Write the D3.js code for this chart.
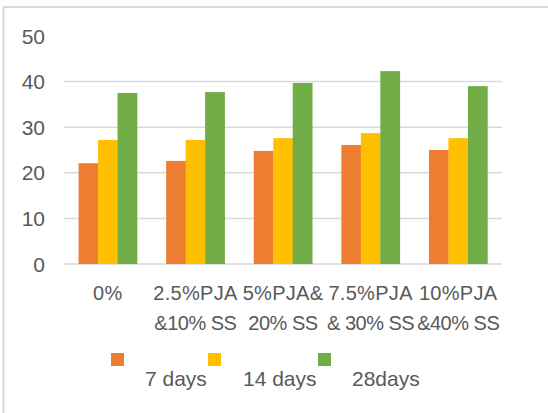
<!DOCTYPE html>
<html><head><meta charset="utf-8">
<script src="https://cdn.jsdelivr.net/npm/d3@7"></script>
<style>body{margin:0;background:#fff}svg{display:block}</style>
</head><body>
<svg id="c" width="548" height="413"></svg>
<script>
const categories = [["0%"], ["2.5%PJA", "&10% SS"], ["5%PJA&", "20% SS"], ["7.5%PJA", "& 30% SS"], ["10%PJA", "&40% SS"]];
const seriesNames = ["7 days", "14 days", "28days"];
const days7 = [22.1, 22.6, 24.8, 26.1, 25.0];
const days14 = [27.2, 27.2, 27.6, 28.7, 27.6];
const days28 = [37.5, 37.7, 39.7, 42.3, 39.0];
const yTicks = [0, 10, 20, 30, 40, 50];
const gridTicks = [0, 10, 20, 30, 40];
const colors = ["#ED7D31", "#FFC000", "#70AD47"];

const series = [days7, days14, days28];
const svg = d3.select("#c");
const font = "'Liberation Sans', Arial, sans-serif";
const txt = "#595959";

// frame (top & left visible)
svg.append("line").attr("x1", 3.5).attr("x2", 548).attr("y1", 7).attr("y2", 7).attr("stroke", "#d9d9d9").attr("stroke-width", 2);
svg.append("line").attr("x1", 3.5).attr("x2", 3.5).attr("y1", 7).attr("y2", 413).attr("stroke", "#d9d9d9").attr("stroke-width", 2);

const x = d3.scaleBand().domain(d3.range(categories.length)).range([64, 502]).paddingInner(0.333).paddingOuter(0.1665);
const xs = d3.scaleBand().domain(d3.range(series.length)).range([0, x.bandwidth()]);
const y = d3.scaleLinear().domain([0, 50]).range([264, 36]);

// gridlines
svg.append("g").selectAll("line").data(gridTicks).join("line")
  .attr("x1", 64).attr("x2", 502)
  .attr("y1", d => y(d)).attr("y2", d => y(d))
  .attr("stroke", "#d9d9d9").attr("stroke-width", 1.5);

// y labels
svg.append("g").selectAll("text").data(yTicks).join("text")
  .attr("x", 45).attr("y", d => y(d)).attr("dy", "0.36em")
  .attr("text-anchor", "end").attr("font-family", font).attr("font-size", 21).attr("fill", txt)
  .text(d => d);

// bars
const g = svg.append("g");
series.forEach((vals, si) => {
  g.append("g").selectAll("rect").data(vals).join("rect")
    .attr("x", (d, i) => x(i) + xs(si))
    .attr("width", xs.bandwidth() + 0.3)
    .attr("y", d => y(d))
    .attr("height", d => y(0) - y(d))
    .attr("fill", colors[si]);
});

// x labels
const xl = svg.append("g").selectAll("text").data(categories).join("text")
  .attr("x", (d, i) => x(i) + x.bandwidth() / 2)
  .attr("y", 300)
  .attr("text-anchor", "middle").attr("font-family", font).attr("font-size", 20).attr("fill", txt);
xl.selectAll("tspan").data(d => d).join("tspan")
  .attr("x", function () { return d3.select(this.parentNode).attr("x"); })
  .attr("dy", (d, i) => i === 0 ? 0 : 30)
  .attr("letter-spacing", (d, i) => i === 0 ? 0.3 : -0.5)
  .text(d => d);

// legend
const legX = [111, 208, 318];
const legTextX = [145, 243, 352];
seriesNames.forEach((n, i) => {
  svg.append("rect").attr("x", legX[i]).attr("y", 353).attr("width", 13).attr("height", 13).attr("fill", colors[i]);
  svg.append("text").attr("x", legTextX[i]).attr("y", 386)
    .attr("font-family", font).attr("font-size", 21).attr("fill", txt).text(n);
});
</script>
</body></html>
